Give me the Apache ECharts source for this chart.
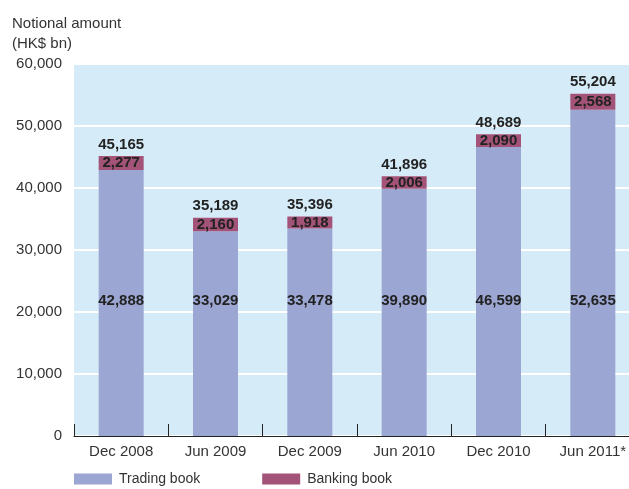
<!DOCTYPE html>
<html><head><meta charset="utf-8">
<script src="https://cdn.jsdelivr.net/npm/echarts@6/dist/echarts.min.js"></script>
<style>html,body{margin:0;padding:0;background:#fff;overflow:hidden}#c{width:640px;height:489px}</style>
</head><body><div id="c"></div>
<script>
const categories = ['Dec 2008','Jun 2009','Dec 2009','Jun 2010','Dec 2010','Jun 2011*'];
const tradingBook = [42888,33029,33478,39890,46599,52635];
const bankingBook = [2277,2160,1918,2006,2090,2568];
const totals = [45165,35189,35396,41896,48689,55204];
const yTicks = [0,10000,20000,30000,40000,50000,60000];

const fmt = v => v.toLocaleString('en-US');
const labelFont = {fontFamily:'Liberation Sans Narrow, Liberation Sans, sans-serif', fontWeight:'bold', fontSize:15, color:'#222'};
const chart = echarts.init(document.getElementById('c'));
chart.setOption({
  animation:false,
  textStyle:{fontFamily:'Liberation Sans, Arial, sans-serif'},
  graphic:[{type:'text', left:12, top:14, style:{text:'Notional amount\n(HK$ bn)', fontSize:15, lineHeight:20, fill:'#333', fontFamily:'Liberation Sans, Arial, sans-serif'}}],
  grid:{left:74, right:0, top:64, bottom:53, show:true, backgroundColor:'#d5ebf8', borderWidth:0, containLabel:false},
  legend:{left:74, top:472, padding:0, itemWidth:38, itemHeight:11, itemGap:62, itemStyle:{borderWidth:0}, icon:'rect',
    textStyle:{fontSize:14, color:'#333', padding:[0,0,0,2], fontFamily:'Liberation Sans Narrow, Liberation Sans, sans-serif'},
    data:['Trading book','Banking book']},
  xAxis:{type:'category', data:categories,
    axisLine:{lineStyle:{color:'#222', width:1}},
    axisTick:{show:true, inside:true, length:12, lineStyle:{color:'#222'}},
    axisLabel:{fontSize:15, color:'#333', margin:8, fontFamily:'Liberation Sans Narrow, Liberation Sans, sans-serif'}},
  yAxis:{type:'value', min:yTicks[0], max:yTicks[yTicks.length-1], interval:10000,
    axisLine:{show:false}, axisTick:{show:false},
    splitLine:{lineStyle:{color:'#ffffff', width:2}},
    axisLabel:{fontSize:15, color:'#333', margin:12, formatter:v=>fmt(v)}},
  series:[
    {name:'Trading book', type:'bar', stack:'a', barWidth:45, data:tradingBook,
      itemStyle:{color:'#9ba6d2'},
      label:{show:true, position:'insideBottom', distance:128, formatter:p=>fmt(p.value), ...labelFont}},
    {name:'Banking book', type:'bar', stack:'a', barWidth:45, data:bankingBook,
      itemStyle:{color:'#a45378'},
      label:{show:true, position:'inside', formatter:p=>fmt(p.value), ...labelFont}},
    {name:'Total', type:'bar', barWidth:45, barGap:'-100%', data:totals, z:0,
      itemStyle:{color:'rgba(0,0,0,0)'}, silent:true,
      label:{show:true, position:'top', distance:4, formatter:p=>fmt(p.value), ...labelFont}}
  ]
});
</script></body></html>
